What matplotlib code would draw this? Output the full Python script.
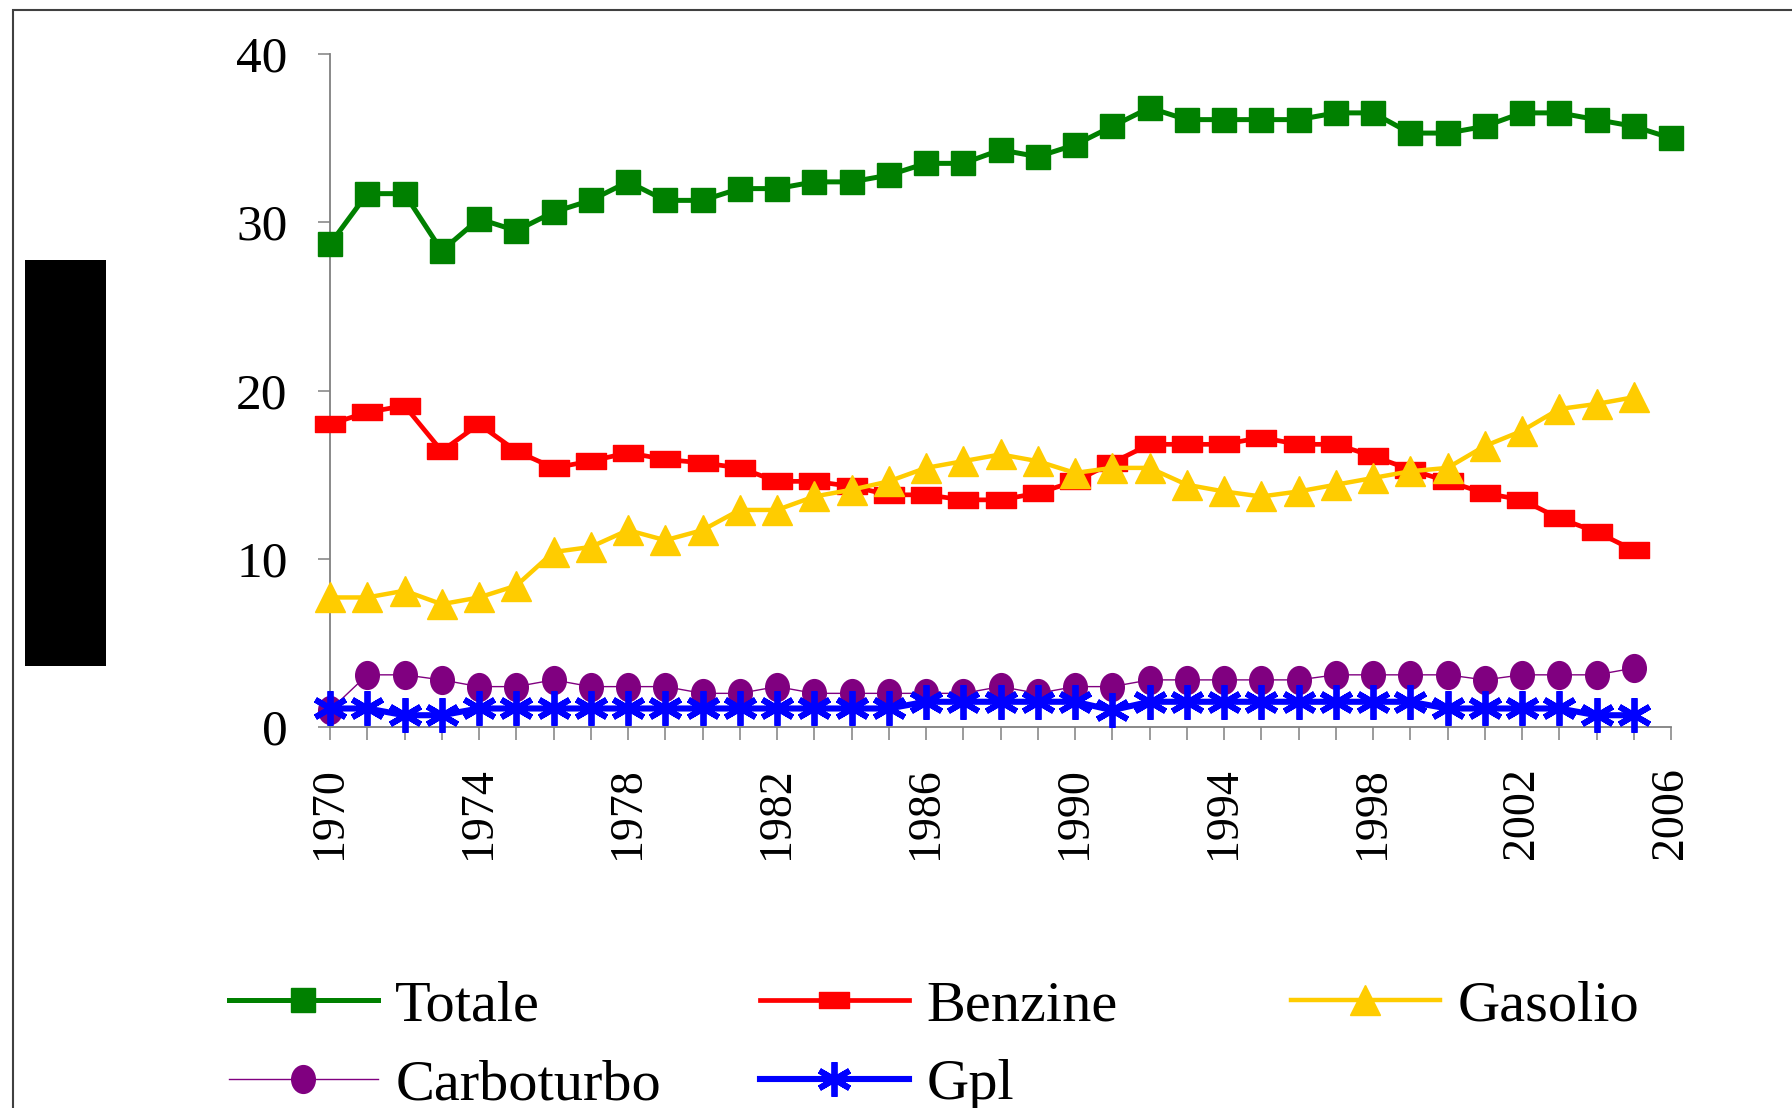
import matplotlib
matplotlib.use('Agg')
import matplotlib.pyplot as plt
from matplotlib.path import Path
from matplotlib.patches import Rectangle
import numpy as np

plt.rcParams['font.family'] = ['Liberation Serif', 'DejaVu Serif']

# ---------------- data ----------------
years = list(range(1970, 2007))
totale = [28.7, 31.7, 31.7, 28.3, 30.2, 29.5, 30.6, 31.3, 32.4, 31.3,
          31.3, 32.0, 32.0, 32.4, 32.4, 32.8, 33.5, 33.5, 34.3, 33.9,
          34.6, 35.7, 36.8, 36.1, 36.1, 36.1, 36.1, 36.5, 36.5, 35.3,
          35.3, 35.7, 36.5, 36.5, 36.1, 35.7, 35.0]
benzine = [18.0, 18.7, 19.1, 16.4, 18.0, 16.4, 15.4, 15.8, 16.3, 15.9,
           15.7, 15.4, 14.6, 14.6, 14.3, 13.8, 13.8, 13.5, 13.5, 13.9,
           14.6, 15.7, 16.8, 16.8, 16.8, 17.2, 16.8, 16.8, 16.1, 15.3,
           14.6, 13.9, 13.5, 12.4, 11.6, 10.5, None]
gasolio = [7.7, 7.7, 8.1, 7.3, 7.7, 8.4, 10.4, 10.7, 11.7, 11.1,
           11.7, 12.9, 12.9, 13.7, 14.1, 14.6, 15.4, 15.8, 16.2, 15.8,
           15.1, 15.4, 15.4, 14.4, 14.0, 13.7, 14.0, 14.4, 14.8, 15.2,
           15.4, 16.7, 17.6, 18.9, 19.2, 19.6, None]
carboturbo = [1.0, 3.1, 3.1, 2.8, 2.4, 2.4, 2.8, 2.4, 2.4, 2.4,
              2.0, 2.0, 2.4, 2.0, 2.0, 2.0, 2.0, 2.0, 2.4, 2.0,
              2.4, 2.4, 2.8, 2.8, 2.8, 2.8, 2.8, 3.1, 3.1, 3.1,
              3.1, 2.8, 3.1, 3.1, 3.1, 3.5, None]
gpl = [1.1, 1.1, 0.7, 0.7, 1.1, 1.1, 1.1, 1.1, 1.1, 1.1,
       1.1, 1.1, 1.1, 1.1, 1.1, 1.1, 1.5, 1.5, 1.5, 1.5,
       1.5, 1.0, 1.5, 1.5, 1.5, 1.5, 1.5, 1.5, 1.5, 1.5,
       1.1, 1.1, 1.1, 1.1, 0.7, 0.7, None]
series_names = ['Totale', 'Benzine', 'Gasolio', 'Carboturbo', 'Gpl']
ytick_values = [0, 10, 20, 30, 40]
ytick_labels = ['0', '10', '20', '30', '40']
label_step = 4


def arr(v):
    return np.array([np.nan if x is None else x for x in v], dtype=float)


# ---------------- figure ----------------
W, H = 1792, 1108
fig = plt.figure(figsize=(W / 100, H / 100), dpi=100)
ax = fig.add_axes([330 / W, (H - 727) / H, (1671 - 330) / W, (727 - 54) / H])

x = np.arange(len(years))

dash_marker = Path([(-1, -0.55), (1, -0.55), (1, 0.55), (-1, 0.55), (-1, -0.55)],
                   closed=True)
circ = Path.unit_circle()
ellipse_marker = Path(circ.vertices * np.array([0.85, 1.0]), circ.codes)

l_tot, = ax.plot(x, arr(totale), color='#008000', lw=3.6, marker='s', ms=17,
                 mfc='#008000', mec='#008000', clip_on=False, zorder=3)
l_ben, = ax.plot(x, arr(benzine), color='#FF0000', lw=3.4, marker=dash_marker, ms=21,
                 mfc='#FF0000', mec='#FF0000', clip_on=False, zorder=4)
l_gas, = ax.plot(x, arr(gasolio), color='#FFCC00', lw=3.2, marker='^', ms=22,
                 mfc='#FFCC00', mec='#FFCC00', clip_on=False, zorder=5)
l_car, = ax.plot(x, arr(carboturbo), color='#800080', lw=1.0, marker=ellipse_marker, ms=20,
                 mfc='#800080', mec='#800080', clip_on=False, zorder=6)
l_gpl, = ax.plot(x, arr(gpl), color='#0000FF', lw=4.4, marker=(6, 2, 0), ms=25,
                 mfc='#0000FF', mec='#0000FF', mew=4.2, clip_on=False, zorder=7)

ax.set_xlim(0, len(years) - 1)
ax.set_ylim(0, 40)
ax.set_yticks(ytick_values)
ax.set_yticklabels(ytick_labels, fontsize=37)
ax.set_xticks(x)
ax.set_xticklabels([str(y) if i % label_step == 0 else '' for i, y in enumerate(years)],
                   rotation=90, fontsize=33)

for s in ['top', 'right']:
    ax.spines[s].set_visible(False)
for s in ['left', 'bottom']:
    ax.spines[s].set_color('#808080')
    ax.spines[s].set_linewidth(1.3)
ax.tick_params(axis='y', direction='out', length=8.6, width=1.1, colors='#808080',
               labelcolor='black', pad=22)
ax.tick_params(axis='x', direction='out', length=9.0, width=1.1, colors='#808080',
               labelcolor='black', pad=20)

# ---------------- legend (Excel-like layout) ----------------
entries = [(l_tot, 229, 1006), (l_ben, 760, 1006), (l_gas, 1291, 1006),
           (l_car, 229, 1085), (l_gpl, 760, 1085)]
for (h, px, py), name in zip(entries, series_names):
    fig.legend(handles=[h], labels=[name], loc='center left',
               bbox_to_anchor=(px / W, 1 - py / H), frameon=False,
               borderpad=0, borderaxespad=0, handlelength=2.55,
               handletextpad=0.3, fontsize=42, numpoints=1)

# ---------------- decorations ----------------
fig.add_artist(Rectangle((25 / W, 1 - 666 / H), 81 / W, 406 / H,
                         transform=fig.transFigure, facecolor='black',
                         edgecolor='none'))
fig.add_artist(Rectangle((13 / W, -0.05), 1.2, (1 - 10 / H) + 0.05,
                         transform=fig.transFigure, fill=False,
                         edgecolor='#404040', lw=1.5))

fig.savefig('out.png', dpi=100)
